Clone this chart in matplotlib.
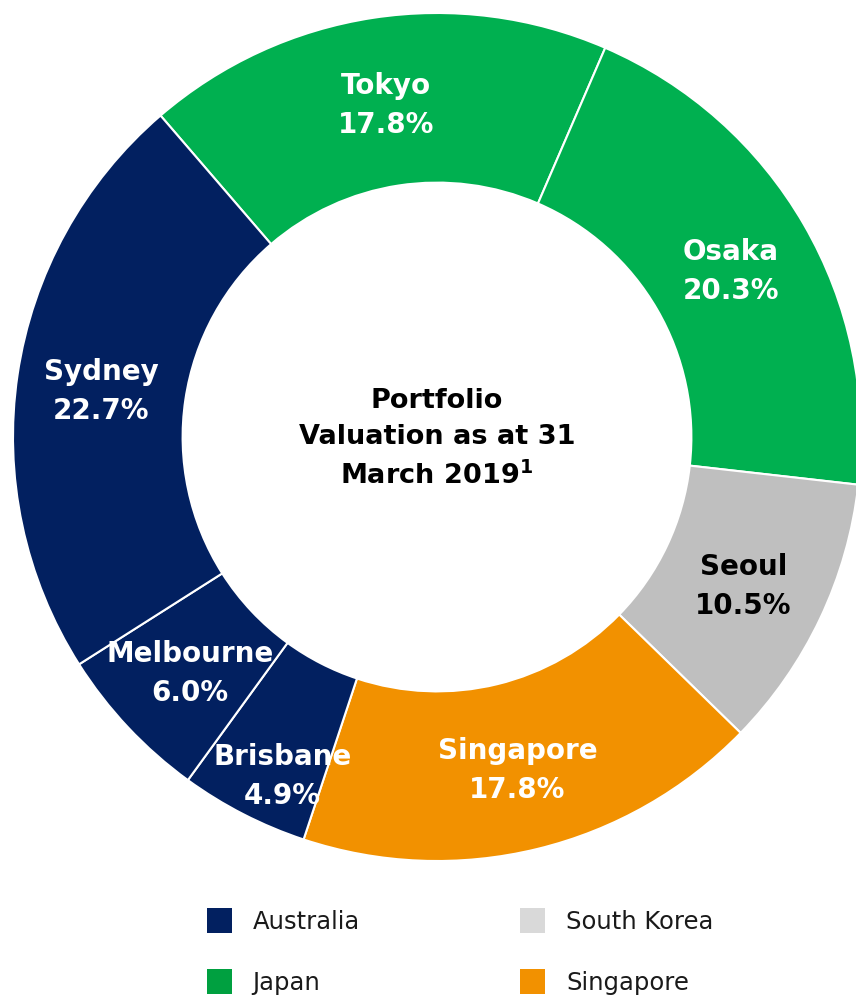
import matplotlib
matplotlib.use("Agg")
import matplotlib.pyplot as plt
import numpy as np
from matplotlib.patches import Patch

cities = ["Tokyo", "Osaka", "Seoul", "Singapore", "Brisbane", "Melbourne", "Sydney"]
shares = [17.8, 20.3, 10.5, 17.8, 4.9, 6.0, 22.7]
countries = ["Japan", "Japan", "South Korea", "Singapore", "Australia", "Australia", "Australia"]

legend_names = ["Australia", "Japan", "South Korea", "Singapore"]

wedge_colors = {"Australia": "#022060", "Japan": "#00b050",
                "South Korea": "#bfbfbf", "Singapore": "#f29100"}
legend_colors = {"Australia": "#022060", "Japan": "#00a040",
                 "South Korea": "#d9d9d9", "Singapore": "#f29100"}

fig = plt.figure(figsize=(8.56, 9.96), dpi=100)
ax = fig.add_axes([13 / 856, (996 - 861) / 996, 848 / 856, 848 / 996])

wedges, _ = ax.pie(shares, colors=[wedge_colors[c] for c in countries],
                   startangle=130.7, counterclock=False, radius=1.0,
                   wedgeprops=dict(width=0.4, edgecolor="white", linewidth=1.5))
ax.set_xlim(-1, 1)
ax.set_ylim(-1, 1)
ax.axis("off")

# (radius, angle nudge in degrees) for labels that don't sit at the default spot
label_pos = {"Brisbane": (0.87, 2.4)}
for w, city, val, ctry in zip(wedges, cities, shares, countries):
    r, nudge = label_pos.get(city, (0.80, 0.0))
    mid = np.deg2rad((w.theta1 + w.theta2) / 2 + nudge)
    col = "black" if ctry == "South Korea" else "white"
    ax.text(r * np.cos(mid), r * np.sin(mid) - 0.01, f"{city}\n{val:.1f}%",
            ha="center", va="center", fontsize=20, fontweight="bold",
            color=col, linespacing=1.5)

ax.text(0, -0.005, "Portfolio\nValuation as at 31\nMarch 2019$^{\\mathbf{1}}$",
        ha="center", va="center", fontsize=19.5, fontweight="bold",
        color="black", linespacing=1.5)

handles = [Patch(facecolor=legend_colors[n], edgecolor="none") for n in legend_names]
fig.legend(handles, legend_names, ncol=2, loc="upper left",
           bbox_to_anchor=(207 / 856, 1 - 908 / 996), frameon=False,
           fontsize=17.5, borderpad=0, borderaxespad=0,
           handlelength=1.03, handleheight=1.2, handletextpad=0.85,
           labelspacing=1.45, columnspacing=6.6, labelcolor="#1a1a1a")

fig.savefig("out.png", dpi=100)
